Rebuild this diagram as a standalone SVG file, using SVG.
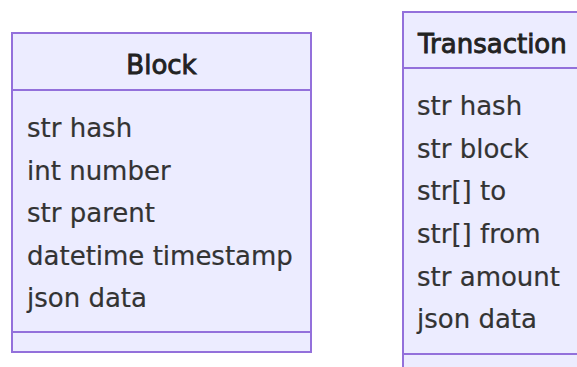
<svg xmlns="http://www.w3.org/2000/svg" width="577" height="367" viewBox="0 0 577 367">
  <style>
    .box { fill: #ECECFF; stroke: #9370DB; stroke-width: 2; }
    .div { stroke: #9370DB; stroke-width: 2; }
    .title { font-family: "DejaVu Sans", Verdana, sans-serif; font-size: 26px; fill: #222; stroke: #222; stroke-width: 0.9; }
    .member { font-family: "DejaVu Sans", Verdana, sans-serif; font-size: 26px; fill: #333; stroke: #333; stroke-width: 0.2; }
  </style>
  <rect width="577" height="367" fill="#ffffff"/>

  <!-- Block class -->
  <g id="Block">
    <rect class="box" x="12" y="33" width="299" height="319"/>
    <line class="div" x1="12" y1="90" x2="311" y2="90"/>
    <line class="div" x1="12" y1="332" x2="311" y2="332"/>
    <text class="title" x="161.5" y="74" text-anchor="middle">Block</text>
    <text class="member" x="27" y="137">str hash</text>
    <text class="member" x="27" y="180">int number</text>
    <text class="member" x="27" y="222">str parent</text>
    <text class="member" x="27" y="265">datetime timestamp</text>
    <text class="member" x="27" y="307">json data</text>
  </g>

  <!-- Transaction class -->
  <g id="Transaction">
    <rect class="box" x="403" y="12" width="190" height="370"/>
    <line class="div" x1="403" y1="68" x2="593" y2="68"/>
    <line class="div" x1="403" y1="354" x2="593" y2="354"/>
    <text class="title" x="418" y="53">Transaction</text>
    <text class="member" x="417" y="115">str hash</text>
    <text class="member" x="417" y="158">str block</text>
    <text class="member" x="417" y="200">str[] to</text>
    <text class="member" x="417" y="243">str[] from</text>
    <text class="member" x="417" y="286">str amount</text>
    <text class="member" x="417" y="328">json data</text>
  </g>

  <g id="connectors"></g>
</svg>
